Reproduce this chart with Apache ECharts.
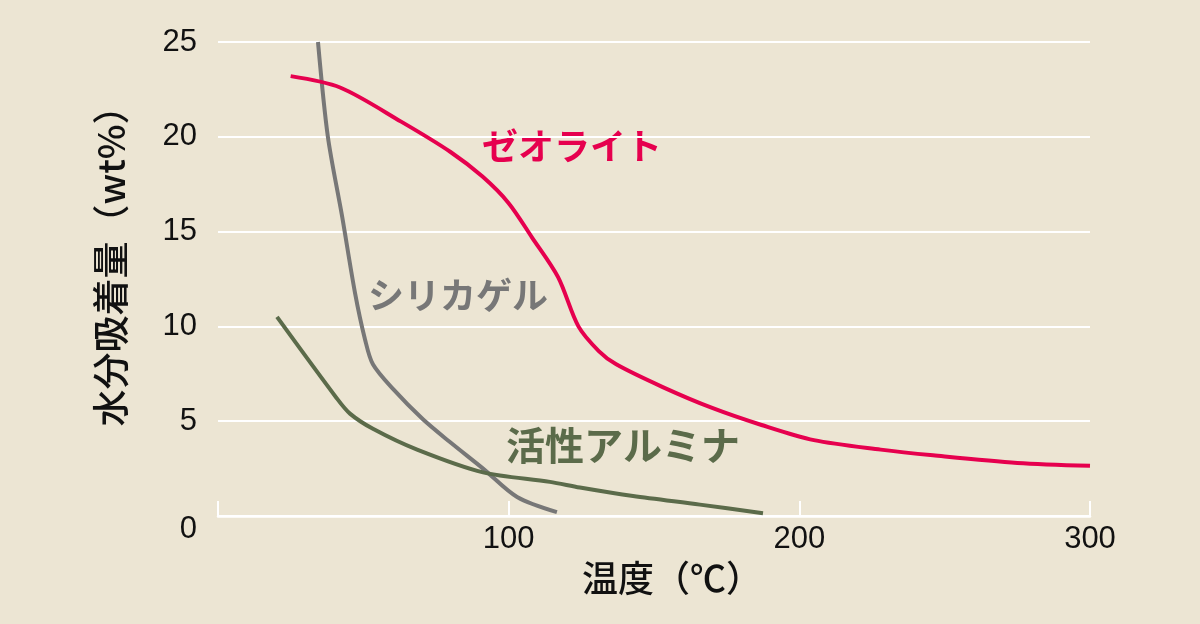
<!DOCTYPE html>
<html>
<head>
<meta charset="utf-8">
<script src="https://cdn.jsdelivr.net/npm/echarts@6/dist/echarts.min.js"></script>
<style>
html,body{margin:0;padding:0;background:#ece5d3;}
#c{width:1200px;height:624px;}
</style>
</head>
<body>
<div id="c"></div>
<script>
// Data
const xTicks = [0, 100, 200, 300];
const yTicks = [0, 5, 10, 15, 20, 25];

const zeoliteX = [25, 42, 63, 80, 91, 100, 108, 117, 124, 131, 137, 153, 170, 187, 205, 228, 246, 275, 300];
const zeoliteY = [23.2, 22.6, 20.8, 19.2, 17.9, 16.5, 14.7, 12.6, 10.0, 8.7, 8.0, 6.8, 5.7, 4.8, 4.0, 3.5, 3.2, 2.8, 2.65];

const silicaX = [34.4, 37.8, 42.7, 47.1, 50.6, 53.3, 60.2, 70.5, 79.8, 91.2, 102.9, 116.6];
const silicaY = [25, 20, 15.8, 11.8, 9.3, 8.0, 6.7, 5.1, 3.9, 2.5, 1.0, 0.2];

const aluminaX = [20.3, 40.9, 45.4, 53.3, 68.5, 91.2, 114.2, 124.5, 142.8, 165.8, 187.5];
const aluminaY = [10.5, 6.2, 5.4, 4.6, 3.5, 2.3, 1.8, 1.5, 1.05, 0.6, 0.15];

const seriesNames = ['ゼオライト', 'シリカゲル', '活性アルミナ'];
const xName = '温度（℃）';
const yName = '水分吸着量（wt%）';

const colZeo = '#e6004e';
const colSil = '#777777';
const colAlu = '#5b6b4a';

function pairs(xs, ys){ return xs.map((x,i)=>[x, ys[i]]); }

const chart = echarts.init(document.getElementById('c'));
const numFont = '"Liberation Sans", Arial, sans-serif';
const cjkFont = '"Noto Sans CJK JP", sans-serif';

chart.setOption({
  backgroundColor: '#ece5d3',
  animation: false,
  grid: {left: 218, right: 110, top: 42, bottom: 108},
  xAxis: {
    type: 'value', min: 0, max: 300, interval: 100,
    name: xName, nameLocation: 'middle', nameGap: 43,
    nameTextStyle: {fontFamily: cjkFont, fontSize: 36, color: '#111', fontWeight: 500, padding: [0,0,0,36]},
    axisLine: {show: true, lineStyle: {color: '#ffffff', width: 2.5}},
    axisTick: {show: true, inside: true, length: 15, lineStyle: {color: '#ffffff', width: 2}},
    axisLabel: {fontFamily: numFont, fontSize: 31, color: '#111', margin: 8,
      formatter: v => v === 0 ? '' : String(v)},
    splitLine: {show: false}
  },
  yAxis: {
    type: 'value', min: 0, max: 25, interval: 5,
    name: yName, nameLocation: 'middle', nameGap: 89, nameRotate: 90,
    nameTextStyle: {fontFamily: cjkFont, fontSize: 37, color: '#111', fontWeight: 500, padding: [0,0,0,44]},
    axisLine: {show: false}, axisTick: {show: false},
    axisLabel: {fontFamily: numFont, fontSize: 31, color: '#111', margin: 21,
      formatter: v => v === 0 ? '{z|0}' : String(v),
      rich: {z: {fontFamily: numFont, fontSize: 31, color: '#111', padding: [26,0,0,0]}}},
    splitLine: {show: true, lineStyle: {color: '#ffffff', width: 2}}
  },
  series: [
    {name: seriesNames[0], type: 'line', data: pairs(zeoliteX, zeoliteY), smooth: 0.3,
      showSymbol: false, lineStyle: {color: colZeo, width: 4}, z: 3},
    {name: seriesNames[1], type: 'line', data: pairs(silicaX, silicaY), smooth: 0.3,
      showSymbol: false, lineStyle: {color: colSil, width: 4}, z: 2},
    {name: seriesNames[2], type: 'line', data: pairs(aluminaX, aluminaY), smooth: 0.3,
      showSymbol: false, lineStyle: {color: colAlu, width: 4}, z: 2}
  ],
  graphic: [
    {type: 'text', left: 482, top: 128, style: {text: seriesNames[0], fill: colZeo, font: 'bold 36px ' + cjkFont}},
    {type: 'text', left: 368, top: 277, style: {text: seriesNames[1], fill: colSil, font: 'bold 36px ' + cjkFont}},
    {type: 'text', left: 506, top: 426, style: {text: seriesNames[2], fill: colAlu, font: 'bold 39px ' + cjkFont}}
  ]
});
</script>
</body>
</html>
